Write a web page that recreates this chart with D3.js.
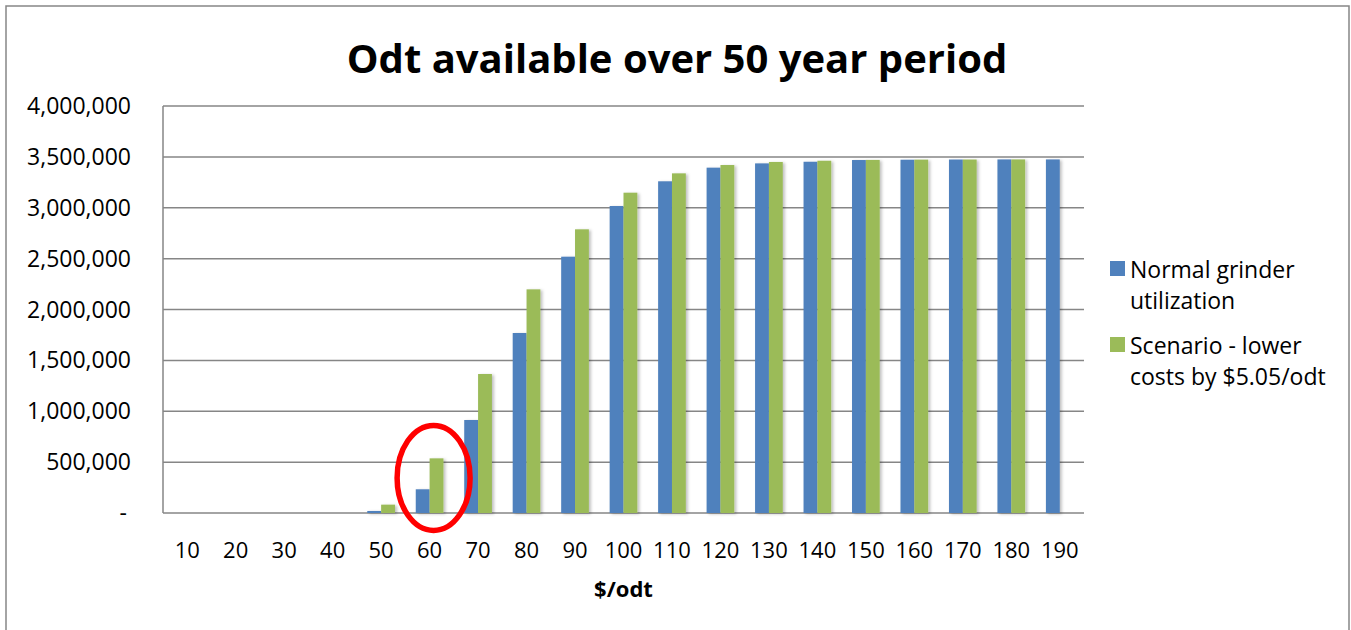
<!DOCTYPE html>
<html>
<head>
<meta charset="utf-8">
<script src="https://cdn.jsdelivr.net/npm/d3@7"></script>
<style>
  body { margin: 0; background: #fff; }
  text { font-family: "Open Sans", "DejaVu Sans", sans-serif; fill: #000; }
</style>
</head>
<body>
<svg id="chart" width="1351" height="630"></svg>
<script>
// $/odt price points
const categories = [10, 20, 30, 40, 50, 60, 70, 80, 90, 100, 110, 120, 130, 140, 150, 160, 170, 180, 190]
const normal = [0, 0, 0, 0, 20000, 233000, 914000, 1769000, 2519000, 3017000, 3260000, 3394000, 3436000, 3452000, 3469000, 3472000, 3474000, 3475000, 3475000]
const scenario = [0, 0, 0, 0, 82000, 537000, 1366000, 2198000, 2788000, 3148000, 3338000, 3420000, 3450000, 3462000, 3470000, 3473000, 3474000, 3475000, null]
const seriesNames = ["Normal grinder utilization", "Scenario - lower costs by $5.05/odt"]
const legendLines = [["Normal grinder", "utilization"], ["Scenario - lower", "costs by $5.05/odt"]]
const colors = ["#4F81BD", "#9BBB59"]
const yTicks = [0, 500000, 1000000, 1500000, 2000000, 2500000, 3000000, 3500000, 4000000]
const highlight = 60 // circled price point

const svg = d3.select("#chart")
const plotL = 163, plotR = 1084, plotT = 106, plotB = 513

// outer chart border
svg.append("rect").attr("x", 6).attr("y", 6).attr("width", 1343).attr("height", 700)
  .attr("fill", "none").attr("stroke", "#868686").attr("stroke-width", 1.5)

let x = d3.scaleBand().domain(categories).range([plotL, plotR]).paddingInner(0).paddingOuter(0)
let y = d3.scaleLinear().domain([0, 4000000]).range([plotB, plotT])
// two bars take 2/3.5 of each band (gap width 150%)
let bw = x.bandwidth() / 3.5

// shadow for bars
let defs = svg.append("defs")
let f = defs.append("filter").attr("id", "shadow").attr("x", "-20%").attr("y", "-5%").attr("width", "160%").attr("height", "120%")
f.append("feDropShadow").attr("dx", 2).attr("dy", 1).attr("stdDeviation", 1.5).attr("flood-color", "#000").attr("flood-opacity", 0.25)

// gridlines
svg.append("g").selectAll("line").data(yTicks).join("line")
  .attr("x1", plotL).attr("x2", plotR)
  .attr("y1", d => y(d)).attr("y2", d => y(d))
  .attr("stroke", "#868686").attr("stroke-width", 1.5)

// left axis line
svg.append("line").attr("x1", plotL).attr("x2", plotL).attr("y1", plotT).attr("y2", plotB)
  .attr("stroke", "#868686").attr("stroke-width", 1.5)

// y axis labels
const fmt = d3.format(",")
svg.append("g").selectAll("text").data(yTicks).join("text")
  .attr("x", d => d === 0 ? 127 : 131).attr("y", d => y(d) + 8)
  .attr("text-anchor", "end").attr("font-size", 23)
  .text(d => d === 0 ? "-" : fmt(d))

// bars
const series = [normal, scenario]
series.forEach((vals, s) => {
  svg.append("g").attr("filter", "url(#shadow)").selectAll("rect")
    .data(categories.map((c, i) => ({ c, v: vals[i] })).filter(d => d.v))
    .join("rect")
    .attr("x", d => x(d.c) + x.bandwidth() / 2 - bw + s * bw)
    .attr("width", bw)
    .attr("y", d => y(d.v))
    .attr("height", d => plotB - y(d.v))
    .attr("fill", colors[s])
})

// red ellipse around the highlighted category
svg.append("ellipse")
  .attr("cx", x(highlight) + x.bandwidth() / 2 + 4)
  .attr("cy", y(345000))
  .attr("rx", 36.5).attr("ry", 52.5)
  .attr("fill", "none").attr("stroke", "#FF0000").attr("stroke-width", 5.5)

// x axis labels
svg.append("g").selectAll("text").data(categories).join("text")
  .attr("x", d => x(d) + x.bandwidth() / 2).attr("y", 558)
  .attr("text-anchor", "middle").attr("font-size", 22)
  .text(d => d)

// axis title
svg.append("text").attr("x", (plotL + plotR) / 2).attr("y", 597)
  .attr("text-anchor", "middle").attr("font-size", 22).attr("font-weight", "bold")
  .text("$/odt")

// title
svg.append("text").attr("x", 677).attr("y", 73)
  .attr("text-anchor", "middle").attr("font-size", 40).attr("font-weight", "bold")
  .text("Odt available over 50 year period")

// legend
const lg = svg.append("g").attr("transform", "translate(1110, 261)")
legendLines.forEach((lines, i) => {
  let g = lg.append("g").attr("transform", `translate(0, ${i * 76})`)
  g.append("rect").attr("width", 15).attr("height", 15).attr("fill", colors[i])
  lines.forEach((t, j) => {
    g.append("text").attr("x", 20).attr("y", 17 + j * 31).attr("font-size", 23).text(t)
  })
})
</script>
</body>
</html>
